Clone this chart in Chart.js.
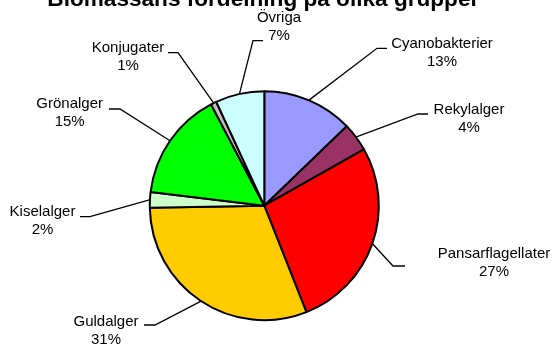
<!DOCTYPE html>
<html lang="sv">
<head>
  <meta charset="UTF-8" />
  <title>Biomassans fördelning</title>
  <script src="https://cdn.jsdelivr.net/npm/chart.js"></script>
  <style>
    body {
      margin: 0;
      background: #fff;
    }
    #wrap {
      width: 553px;
      height: 347px;
    }
  </style>
</head>
<body>
  <div id="wrap"><canvas id="pie" width="553" height="347"></canvas></div>

  <script>
    const chartTitle = "Biomassans fördelning på olika grupper";
    const groups = ["Cyanobakterier", "Rekylalger", "Pansarflagellater", "Guldalger",
                    "Kiselalger", "Grönalger", "Konjugater", "Övriga"];
    const biomass = [12.8, 4.0, 27.2, 30.7, 2.2, 15.4, 0.8, 6.9];
    const sliceColors = ["#9999FF", "#993366", "#FF0000", "#FFCC00",
                         "#CCFFCC", "#00FF00", "#C0C0C0", "#CCFFFF"];

    // where each label sits, as offsets from the pie centre (text centre + leader elbow)
    const labelLayout = [
      { tx: 177.7, ty: -152.7, near: 112.7, far: 122.7, ly: -157.4 },
      { tx: 204.7, ty: -87.2,  near: 153.7, far: 163.7, ly: -91.7 },
      { tx: 229.7, ty: 57.3,   near: 128.7, far: 140.7, ly: 60.3 },
      { tx: -158.3, ty: 124.8, near: -109.3, far: -120.3, ly: 119.3 },
      { tx: -221.8, ty: 15.3,  near: -174.3, far: -184.3, ly: 11 },
      { tx: -194.6, ty: -92.7, near: -144.3, far: -155.3, ly: -96.7 },
      { tx: -136.3, ty: -148.7, near: -86.3, far: -96.3, ly: -153 },
      { tx: 14.7, ty: -178.7,  near: -11.3, far: -1.3, ly: -165 }
    ];

    const total = biomass.reduce((a, b) => a + b, 0);

    const pieLabels = {
      id: "pieLabels",
      afterDraw(chart) {
        const ctx = chart.ctx;
        const arcs = chart.getDatasetMeta(0).data;
        ctx.save();

        // title
        ctx.fillStyle = "#000";
        ctx.font = "bold 22.6px 'Liberation Sans', Arial, sans-serif";
        ctx.textAlign = "center";
        ctx.textBaseline = "alphabetic";
        const c0 = arcs[0].getProps(["x", "y"], true);
        ctx.fillText(chartTitle, c0.x - 1, 5.5);

        ctx.font = "15px 'Liberation Sans', Arial, sans-serif";
        ctx.textBaseline = "middle";
        ctx.strokeStyle = "#000";
        ctx.lineWidth = 1.3;

        arcs.forEach((arc, i) => {
          const p = arc.getProps(["x", "y", "startAngle", "endAngle", "outerRadius"], true);
          const lay = labelLayout[i];
          const mid = (p.startAngle + p.endAngle) / 2;
          const ex = p.x + Math.cos(mid) * (p.outerRadius + 0.5);
          const ey = p.y + Math.sin(mid) * (p.outerRadius + 0.5);

          ctx.beginPath();
          ctx.moveTo(ex, ey);
          ctx.lineTo(p.x + lay.near, p.y + lay.ly);
          ctx.lineTo(p.x + lay.far, p.y + lay.ly);
          ctx.stroke();

          const pct = Math.round(biomass[i] / total * 100) + "%";
          ctx.fillText(groups[i], p.x + lay.tx, p.y + lay.ty - 9);
          ctx.fillText(pct, p.x + lay.tx, p.y + lay.ty + 9);
        });
        ctx.restore();
      }
    };

    new Chart(document.getElementById("pie"), {
      type: "pie",
      data: {
        labels: groups,
        datasets: [{
          data: biomass,
          backgroundColor: sliceColors,
          borderColor: "#000",
          borderWidth: 2,
          radius: 114.5
        }]
      },
      options: {
        responsive: false,
        devicePixelRatio: 1,
        animation: false,
        layout: { padding: { left: 0, right: 24.4, top: 85, bottom: 20.6 } },
        plugins: {
          legend: { display: false },
          title: { display: false },
          tooltip: { enabled: false }
        }
      },
      plugins: [pieLabels]
    });
  </script>
</body>
</html>
